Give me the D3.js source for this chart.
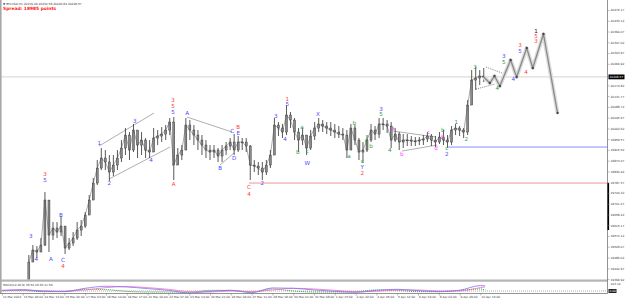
<!DOCTYPE html>
<html><head><meta charset="utf-8">
<script src="https://cdn.jsdelivr.net/npm/d3@7/dist/d3.min.js"></script>
<style>
html,body{margin:0;padding:0;background:#fff;overflow:hidden}
svg{display:block}
text{font-family:"DejaVu Sans",Arial,sans-serif}
</style></head><body>
<svg id="chart" width="625" height="301"></svg>
<script>
// ---------------- data ----------------
const symbolTitle = "BTCUSD,H1";
const ohlcValues = ["20219.09", "20234.58", "20206.84", "20208.57"];
const spreadText = "Spread: 18985 points";
const macdTitle = "MACD(12,26,9) 38.52 26.93 11.59";

const startHour = 40;      // hours after first time label
const stepHours = 6;       // each sample covers 6 hours

const highs = [19496,19536,19532,19564,19748,19716,19628,19628,19652,19604,
19564,19588,19628,19636,19668,19736,19804,19876,19924,19916,
19896,19896,19916,19956,20004,19988,20020,19996,19988,19964,
19956,20004,19996,20008,20016,20044,20048,19924,19936,20044,
20036,20016,19996,19976,19956,19936,19936,19924,19936,19948,
19964,19980,19972,19964,19964,19936,19876,19868,19868,19876,
19916,20044,20028,20020,20096,20068,20044,20004,20004,19976,
19996,20028,20044,20036,20028,20028,20020,20012,20004,19996,
20020,20016,19964,19948,19976,20020,20012,20044,20044,20036,
20028,20004,19988,19980,19980,19972,19968,19968,19976,19988,
19980,19972,19988,19996,19976,20012,20020,20012,20004,20116,
20236,20248,20236,20244];
const lows = [19388,19468,19484,19508,19532,19508,19556,19564,19572,19500,
19516,19532,19556,19572,19604,19656,19716,19776,19836,19836,
19792,19812,19836,19868,19896,19876,19908,19884,19896,19884,
19884,19916,19936,19948,19956,19976,19796,19856,19876,19916,
19956,19936,19916,19896,19884,19876,19884,19868,19868,19896,
19916,19896,19908,19916,19908,19796,19828,19816,19796,19816,
19844,19896,19972,19964,19976,20004,19956,19908,19936,19896,
19916,19956,19988,19988,19980,19972,19964,19964,19956,19884,
19916,19936,19876,19864,19908,19948,19956,19964,19996,19984,
19924,19948,19916,19924,19932,19932,19932,19936,19936,19948,
19932,19928,19940,19936,19924,19936,19976,19972,19964,19976,
20096,20156,20176,20188];
const closes = [19468,19516,19508,19536,19716,19576,19604,19588,19612,19524,
19544,19564,19596,19612,19656,19716,19784,19844,19884,19868,
19828,19856,19884,19924,19976,19916,19996,19936,19956,19916,
19908,19964,19972,19980,19996,20028,19856,19896,19916,20016,
19996,19976,19956,19936,19916,19908,19916,19892,19916,19932,
19948,19916,19948,19948,19932,19856,19852,19844,19828,19856,
19896,20016,20004,19988,20056,20036,19988,19956,19976,19924,
19972,20004,20020,20012,20004,19996,19988,19980,19976,19916,
20004,19956,19908,19916,19956,19996,19980,20020,20020,20012,
19956,19980,19948,19956,19956,19952,19952,19956,19960,19972,
19956,19948,19968,19956,19948,19996,20004,19996,19988,20096,
20196,20204,20212,20208];

const timeLabels = ["11 Mar 2022","13 Mar 06:00","14 Mar 13:00","15 Mar 20:00","17 Mar 03:00",
"18 Mar 10:00","19 Mar 17:00","21 Mar 00:00","22 Mar 07:00","23 Mar 14:00","24 Mar 21:00",
"26 Mar 04:00","27 Mar 11:00","28 Mar 18:00","30 Mar 01:00","31 Mar 08:00","1 Apr 15:00",
"2 Apr 22:00","4 Apr 05:00","5 Apr 12:00","6 Apr 19:00","8 Apr 02:00","9 Apr 09:00","10 Apr 16:00"];
const timeTickHours = [0,31,62,93,124,155,186,217,248,279,310,341,372,403,434,465,496,527,558,589,620,651,682,713];

const priceTicks = [20476.17,20433.12,20390.07,20347.02,20303.97,20260.92,20174.82,
20131.77,20088.72,20045.67,20002.62,19959.57,19916.52,19873.47,19830.42,19787.37,19744.32,
19701.27,19658.22,19615.17,19572.12,19529.07,19486.02,19442.97,19399.92];
const currentPrice = 20208.57;

const projHours  = [718,727,734,742,758,767,782,791,807,828];
const projPrices = [20208,20184,20212,20172,20276,20208,20324,20244,20380,20064];

const trendLines = [
  [144.6,19932,226.5,20064],[159.5,19800,250.4,19928],
  [275.7,20048,342.8,19988],[324.9,19856,345.8,19904],
  [582.7,19992,646.8,19968],[596.2,19912,648.3,19936]];
const dottedLines = [[721.4,20248,745.2,20224],[706.5,20160,734.8,20180]];

const blueLevel = {price:19928, fromHour:665};
const redLevel  = {price:19784, fromHour:368};

const waveLabels = [
["3",43,19572,"b"],["4",51,19480,"b"],["3",64,19820,"r"],["5",64,19796,"b"],["A",73,19480,"b"],["B",88,19656,"b"],["C",91,19476,"b"],["4",91,19452,"r"],
["1",145,19944,"b"],["2",160,19784,"b"],["3",198,20032,"b"],["4",222,19876,"b"],["3",255,20116,"r"],["5",255,20092,"r"],["5",255,20068,"b"],["A",256,19780,"r"],
["A",276,20064,"b"],["B",325,19844,"b"],["C",343,19992,"b"],["D",346,19884,"b"],["B",352,20008,"r"],["E",352,19984,"b"],["C",368,19768,"r"],["4",368,19740,"r"],
["2",388,19784,"b"],["3",408,20052,"b"],["4",422,19960,"b"],["1",425,20120,"r"],["5",425,20100,"b"],
["a",447,20008,"g"],["b",441,19908,"g"],["c",455,19912,"g"],["W",455,19864,"b"],["X",471,20060,"b"],
["a",517,19892,"g"],["b",525,20024,"g"],["c",537,19872,"g"],["Y",537,19848,"b"],["2",537,19824,"r"],
["a",543,19956,"g"],["b",550,19932,"g"],["3",565,20080,"b"],["5",565,20060,"g"],
["a",583,20004,"p"],["4",578,19916,"g"],["b",596,19900,"p"],["c",636,19988,"p"],["d",647,19924,"p"],
["b",657,19996,"g"],["e",657,19972,"p"],["c",663,19924,"g"],["2",663,19900,"b"],
["1",677,20028,"g"],["2",692,19960,"g"],["3",705,20248,"g"],["4",738,20164,"g"],
["3",748,20292,"b"],["5",748,20268,"g"],["4",762,20200,"b"],["3",772,20336,"r"],["5",772,20312,"b"],["4",781,20228,"r"],
["1",796,20392,"k"],["5",796,20372,"r"],["3",796,20352,"r"]];
const labelColors = {b:"#4a4aff", r:"#ff3a3a", g:"#2f9a4a", p:"#ff3cff", k:"#111"};

const macdHours  = [0,31,62,93,124,155,186,217,248,279,310,341,372,403,434,465,496,527,558,589,620,651,682,713,720];
const macdVals   = [10,20,-5,-10,40,70,60,35,10,-30,-5,10,-25,45,40,15,-5,-20,10,25,5,-10,10,80,75];
const signalVals = [5,12,5,-5,15,50,65,50,25,-10,-15,0,-10,15,40,30,10,-10,-5,15,15,0,0,50,60];
const histVals   = [5,8,-10,-5,25,20,-5,-15,-15,-20,10,10,-15,30,0,-15,-15,-10,15,10,-10,-10,10,30,15];
const macdTicks = ["103.12","0.00"];

// ---------------- layout ----------------
const svg = d3.select("#chart");
const plotL = 1, plotR = 607.5, mainBot = 279.5, macdTop = 282, macdBot = 293.5;

const x = d3.scaleLinear().domain([0, 713]).range([2, 480.4]);
const y = d3.scaleLinear().domain([19400.17, 20516.17]).range([279, 0]);
const yM = d3.scaleLinear().domain([0, 103.12]).range([291, 284]);

svg.append("rect").attr("width",625).attr("height",301).attr("fill","#fff");
svg.append("defs").append("clipPath").attr("id","mainClip")
  .append("rect").attr("x",plotL).attr("y",0).attr("width",plotR-plotL).attr("height",mainBot);

const main = svg.append("g").attr("clip-path","url(#mainClip)");

// current price line
main.append("line").attr("x1",plotL).attr("x2",plotR)
  .attr("y1",y(currentPrice)).attr("y2",y(currentPrice))
  .attr("stroke","#c8c8c8").attr("stroke-width",0.8);

// levels
main.append("line").attr("x1",x(blueLevel.fromHour)).attr("x2",plotR)
  .attr("y1",y(blueLevel.price)).attr("y2",y(blueLevel.price))
  .attr("stroke","#7f7fff").attr("stroke-width",0.9);
main.append("line").attr("x1",x(redLevel.fromHour)).attr("x2",plotR)
  .attr("y1",y(redLevel.price)).attr("y2",y(redLevel.price))
  .attr("stroke","#e88a8a").attr("stroke-width",0.9);

// trend lines
main.selectAll(".tl").data(trendLines).enter().append("line")
  .attr("x1",d=>x(d[0])).attr("y1",d=>y(d[1])).attr("x2",d=>x(d[2])).attr("y2",d=>y(d[3]))
  .attr("stroke","#9a9a9a").attr("stroke-width",0.8);
main.selectAll(".dl").data(dottedLines).enter().append("line")
  .attr("x1",d=>x(d[0])).attr("y1",d=>y(d[1])).attr("x2",d=>x(d[2])).attr("y2",d=>y(d[3]))
  .attr("stroke","#555").attr("stroke-width",0.7).attr("stroke-dasharray","1,1");

// price bars
const bars = closes.map((c,i)=>({h:startHour+i*stepHours, hi:highs[i], lo:lows[i], o: i? closes[i-1]: lows[i], c}));
main.selectAll(".wick").data(bars).enter().append("line")
  .attr("x1",d=>x(d.h)).attr("x2",d=>x(d.h)).attr("y1",d=>y(d.hi)).attr("y2",d=>y(d.lo))
  .attr("stroke","#2e2e2e").attr("stroke-width",0.8);
main.selectAll(".body").data(bars).enter().append("rect")
  .attr("x",d=>x(d.h)-1).attr("width",2)
  .attr("y",d=>y(Math.max(d.o,d.c))).attr("height",d=>Math.max(0.8,Math.abs(y(d.o)-y(d.c))))
  .attr("fill","#8a8a8a").attr("stroke","#2a2a2a").attr("stroke-width",0.4);
main.append("path")
  .attr("d",d3.line().x(d=>x(d.h)).y(d=>y(d.c))(bars))
  .attr("fill","none").attr("stroke","#555").attr("stroke-width",0.5);

// projection
const proj = projHours.map((h,i)=>[x(h), y(projPrices[i])]);
main.append("path").attr("d",d3.line()(proj)).attr("fill","none")
  .attr("stroke","#dcdcdc").attr("stroke-width",4).attr("stroke-linejoin","round");
main.append("path").attr("d",d3.line()(proj)).attr("fill","none")
  .attr("stroke","#8a8a8a").attr("stroke-width",1.3).attr("stroke-linejoin","round");
main.selectAll(".pv").data(proj.slice(1)).enter().append("circle")
  .attr("cx",d=>d[0]).attr("cy",d=>d[1]).attr("r",1.2).attr("fill","#444");

// wave labels
main.selectAll(".wl").data(waveLabels).enter().append("text")
  .attr("x",d=>x(d[1])).attr("y",d=>y(d[2]))
  .attr("text-anchor","middle").attr("dominant-baseline","middle")
  .attr("font-size","5.6px").attr("fill",d=>labelColors[d[3]]).text(d=>d[0]);

// header texts
svg.append("text").attr("x",3).attr("y",4.5).attr("font-size","2.9px").attr("fill","#333")
  .text("\u25BC " + symbolTitle + "  " + ohlcValues.join(" "));
svg.append("text").attr("x",3).attr("y",10).attr("font-size","4.4px").attr("font-weight","bold")
  .attr("fill","#ff2020").text(spreadText);

// ---------------- MACD pane ----------------
svg.append("line").attr("x1",plotL).attr("x2",plotR).attr("y1",yM(0)).attr("y2",yM(0))
  .attr("stroke","#777").attr("stroke-width",0.6).attr("stroke-dasharray","1,1");
const mline = d3.line().x((d,i)=>x(macdHours[i])).y(d=>yM(d)).curve(d3.curveMonotoneX);
svg.append("path").attr("d",mline(histVals)).attr("fill","none")
  .attr("stroke","#1f9a1f").attr("stroke-width",0.9).attr("stroke-dasharray","1,1");
svg.append("path").attr("d",mline(signalVals)).attr("fill","none")
  .attr("stroke","#ff70b0").attr("stroke-width",0.8);
svg.append("path").attr("d",mline(macdVals)).attr("fill","none")
  .attr("stroke","#8070ff").attr("stroke-width",0.8);
svg.append("text").attr("x",3).attr("y",285.5).attr("font-size","2.9px").attr("fill","#333").text(macdTitle);

// borders
svg.append("rect").attr("x",0).attr("y",mainBot).attr("width",plotR).attr("height",2.2).attr("fill","#b4b4b4");
svg.append("line").attr("x1",0.8).attr("x2",0.8).attr("y1",0).attr("y2",macdBot).attr("stroke","#a8a8a8").attr("stroke-width",1.6);
svg.append("line").attr("x1",plotR).attr("x2",plotR).attr("y1",0).attr("y2",macdBot).attr("stroke","#777").attr("stroke-width",0.8);
svg.append("line").attr("x1",0).attr("x2",plotR).attr("y1",macdBot).attr("y2",macdBot).attr("stroke","#777").attr("stroke-width",0.8);
svg.append("line").attr("x1",plotR+0.8).attr("x2",plotR+0.8).attr("y1",y(redLevel.price)).attr("y2",230)
  .attr("stroke","#000").attr("stroke-width",1.6);

// price axis
const yAxis = d3.axisRight(y).tickValues(priceTicks).tickFormat(d=>d.toFixed(2)).tickSize(2).tickPadding(1);
const ga = svg.append("g").attr("transform",`translate(${plotR},0)`).call(yAxis);
ga.select(".domain").remove();
ga.selectAll("line").attr("stroke","#777").attr("stroke-width",0.5);
ga.selectAll("text").attr("font-size","2.9px").attr("fill","#333");

// current price marker
svg.append("rect").attr("x",plotR+1).attr("y",y(currentPrice)-2.4).attr("width",16).attr("height",4.8).attr("fill","#000");
svg.append("text").attr("x",plotR+2).attr("y",y(currentPrice)).attr("dominant-baseline","middle")
  .attr("font-size","2.9px").attr("fill","#fff").text(currentPrice.toFixed(2));

// macd axis labels
svg.append("text").attr("x",plotR+3).attr("y",yM(103.12)+0.5).attr("dominant-baseline","middle")
  .attr("font-size","2.9px").attr("fill","#333").text(macdTicks[0]);
svg.append("rect").attr("x",plotR+1).attr("y",yM(0)-2).attr("width",8).attr("height",4).attr("fill","#222");
svg.append("text").attr("x",plotR+2).attr("y",yM(0)).attr("dominant-baseline","middle")
  .attr("font-size","2.9px").attr("fill","#fff").text(macdTicks[1]);

// time axis
const xAxis = d3.axisBottom(x).tickValues(timeTickHours).tickFormat((d,i)=>timeLabels[i]).tickSize(2).tickPadding(0.6);
const gx = svg.append("g").attr("transform",`translate(0,${macdBot})`).call(xAxis);
gx.select(".domain").remove();
gx.selectAll("line").attr("stroke","#777").attr("stroke-width",0.5);
gx.selectAll("text").attr("font-size","2.9px").attr("fill","#333").attr("text-anchor","start").attr("dx","0.4");
</script>
</body></html>
